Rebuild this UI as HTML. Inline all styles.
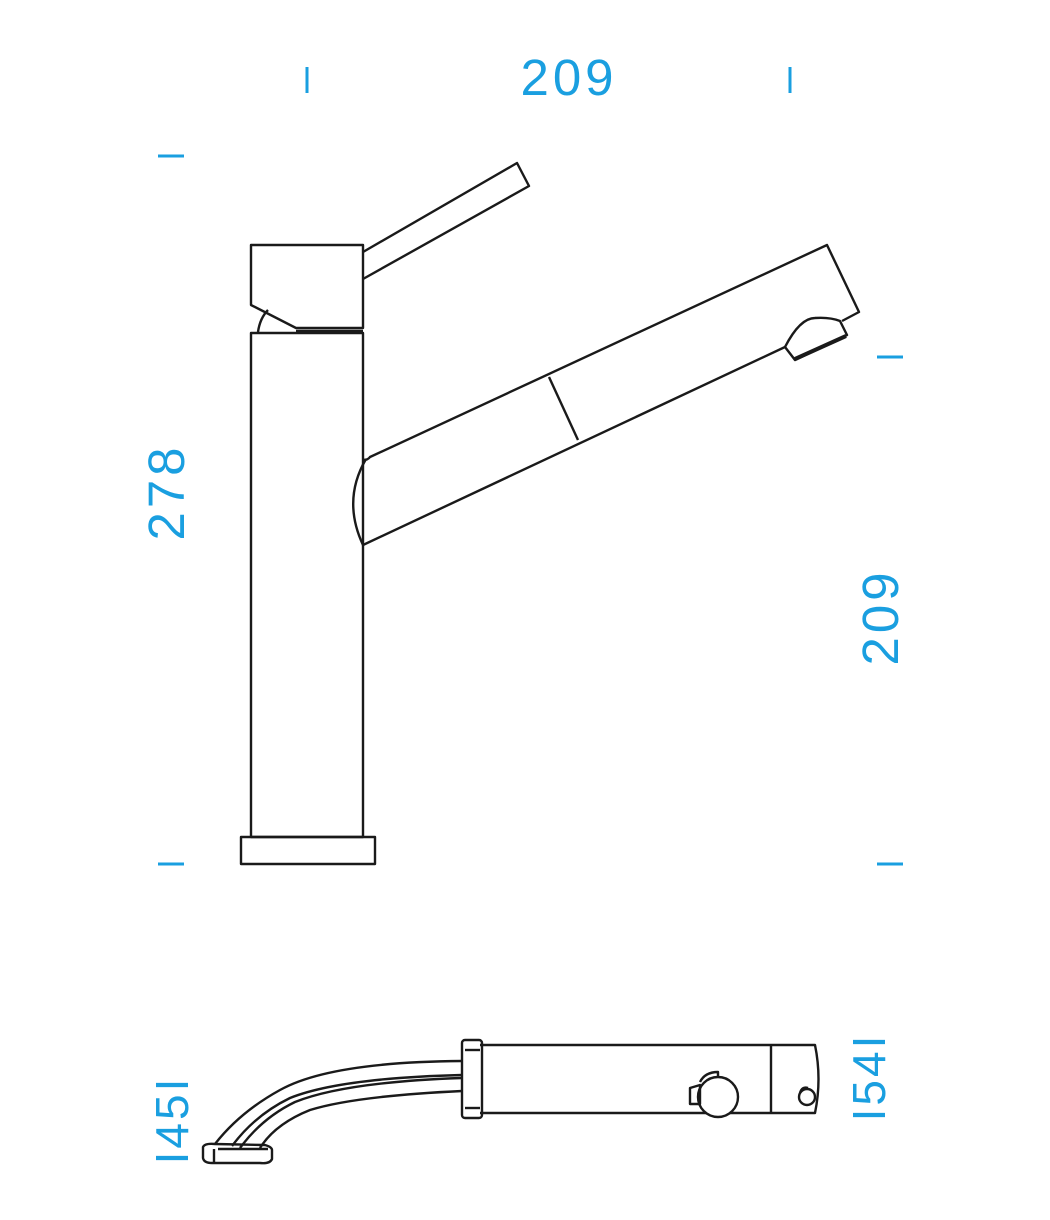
<!DOCTYPE html>
<html><head><meta charset="utf-8"><style>
html,body{margin:0;padding:0;background:#fff;}
svg{display:block;}
text{font-family:"Liberation Sans",sans-serif;fill:#1a9fe0;}
</style></head><body>
<svg width="1050" height="1220" viewBox="0 0 1050 1220" xmlns="http://www.w3.org/2000/svg">
<g stroke="#1a9fe0" stroke-width="3" fill="none">
<line x1="307" y1="67" x2="307" y2="93"/>
<line x1="790" y1="67" x2="790" y2="93"/>
<line x1="158" y1="156" x2="184" y2="156"/>
<line x1="158" y1="864" x2="184" y2="864"/>
<line x1="877" y1="357" x2="903" y2="357"/>
<line x1="877" y1="864" x2="903" y2="864"/>
</g>
<text x="569" y="95" font-size="51" text-anchor="middle" letter-spacing="4">209</text>
<text transform="translate(184,492) rotate(-90)" font-size="51" text-anchor="middle" letter-spacing="4">278</text>
<text transform="translate(898,617) rotate(-90)" font-size="51" text-anchor="middle" letter-spacing="4">209</text>
<text transform="translate(188,1120) rotate(-90)" font-size="46" text-anchor="middle" letter-spacing="3">I45I</text>
<text transform="translate(885,1077) rotate(-90)" font-size="46" text-anchor="middle" letter-spacing="3">I54I</text>

<g stroke="#1a1a1a" stroke-width="2.4" fill="none" stroke-linejoin="round">
<path d="M363,252 L517,163 L529,186 L363,279"/>
<path d="M251,245 L363,245 L363,328 L296,328 L251,305 Z"/>
<path d="M258,332 Q260,318 268,310"/>
<line x1="296" y1="331" x2="363" y2="331"/>
<rect x="251" y="333" width="112" height="504"/>
<rect x="241" y="837" width="134" height="27"/>
<path d="M363,460 Q368,460 370,457 L827,245 L859,312 L842,321"/>
<path d="M366,459 Q342,500 363,545 L785,347"/>
<line x1="549" y1="377" x2="578" y2="440"/>
<path d="M785,347 Q800,318 815,318 Q830,317 840,321 L847,335 L795,360 Z"/>
<line x1="795" y1="359" x2="846" y2="336" stroke-width="4"/>

<path d="M480,1045 L815,1045 Q822,1079 815,1113 L480,1113"/>
<line x1="771" y1="1045" x2="771" y2="1113"/>
<rect x="462" y="1040" width="20" height="78" rx="3"/>
<line x1="465" y1="1050" x2="480" y2="1050"/>
<line x1="465" y1="1108" x2="480" y2="1108"/>
<circle cx="718" cy="1097" r="20" fill="#fff"/>
<path d="M700,1082 Q705,1072 718,1072 L718,1076 M690,1088 L700,1085 L700,1104 L690,1104 Z"/>
<circle cx="807" cy="1097" r="8" fill="#fff"/>
<path d="M800,1093 Q802,1086 808,1088"/>
<path d="M462,1061 Q330,1062 280,1090 Q240,1112 215,1144"/>
<path d="M462,1075 Q340,1078 290,1098 Q255,1115 232,1146"/>
<path d="M462,1078 Q345,1082 295,1102 Q262,1118 240,1148"/>
<path d="M462,1091 Q355,1096 310,1110 Q275,1124 260,1148"/>
<path d="M203,1147 Q205,1143 215,1144 L265,1145 Q272,1147 272,1150 L272,1159 Q270,1164 260,1163 L212,1163 Q204,1163 203,1158 Z"/>
<path d="M218,1149 L268,1149"/>
<line x1="214" y1="1149" x2="214" y2="1162"/>
</g>
</svg>
</body></html>
